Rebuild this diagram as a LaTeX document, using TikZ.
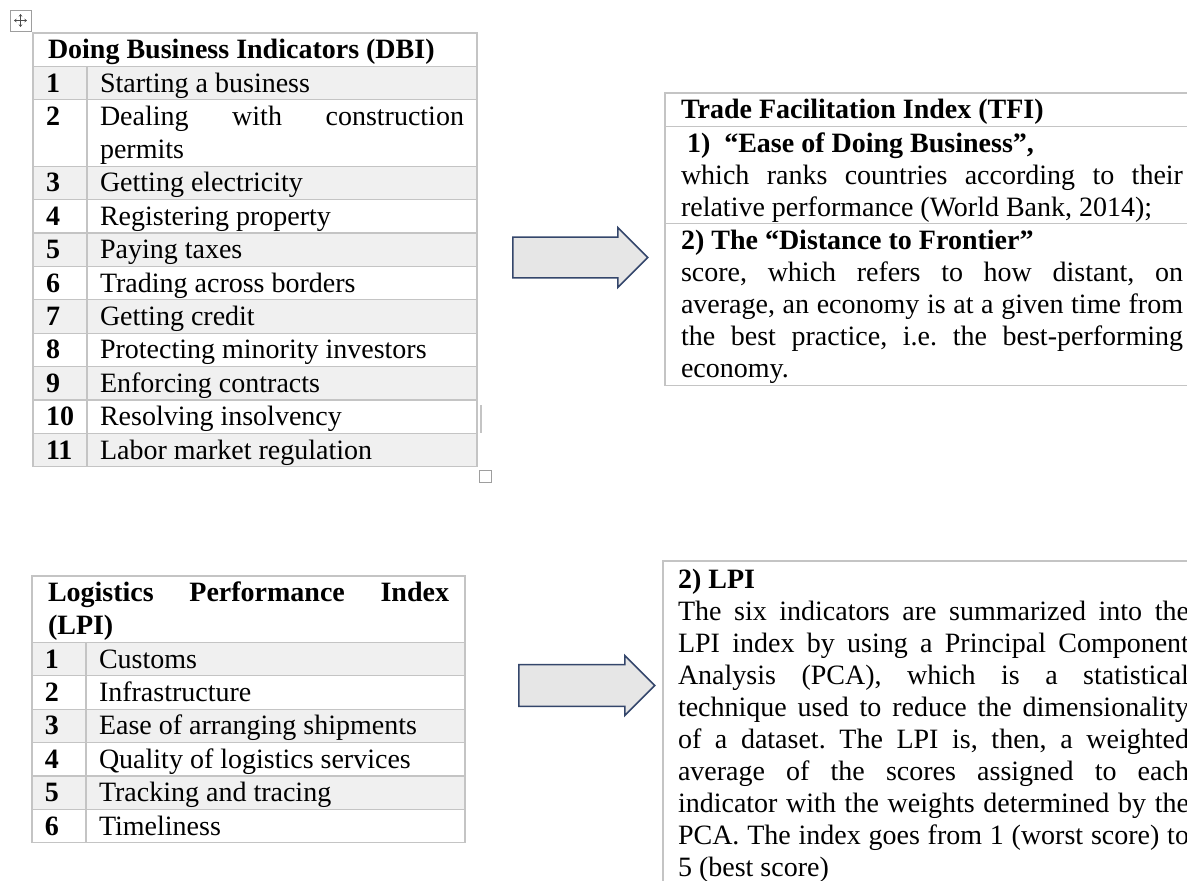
\documentclass[tikz,border=0pt]{standalone}
\usepackage{fontspec}
\setmainfont{Liberation Serif}
\usepackage{xcolor}
\usepackage{tikz}
\usetikzlibrary{positioning, arrows.meta, shapes.arrows}
\frenchspacing
\definecolor{gridGray}{HTML}{C4C4C4}
\definecolor{rowGray}{HTML}{F0F0F0}
\definecolor{arrowFill}{HTML}{E6E6E6}
\definecolor{arrowEdge}{HTML}{34466B}
\definecolor{handleGray}{HTML}{9E9E9E}
\newcommand{\fullline}[1]{\makebox[\linewidth][s]{#1}}
\tikzset{
  cell/.style={rectangle, draw=gridGray, line width=1.3pt, anchor=north west,
    outer sep=0pt, inner ysep=1.7pt, text height=24pt, text depth=6pt,
    align=justify, font=\fontsize{28}{33}\selectfont},
  headcell/.style={cell, font=\fontsize{28}{33}\selectfont\bfseries},
  numcell/.style={cell, inner xsep=13pt, text width=28pt,
    font=\fontsize{28}{33}\selectfont\bfseries},
  itemcell/.style={cell, inner xsep=13pt},
  shaded/.style={fill=rowGray},
  textbox/.style={cell, inner xsep=16pt, font=\fontsize{28}{32}\selectfont},
  blockarrow/.style={single arrow, draw=arrowEdge, fill=arrowFill,
    line width=1.5pt, inner xsep=0pt, minimum width=60pt, anchor=tail},
  handlebox/.style={draw=handleGray, line width=1pt},
  handleicon/.style={{Stealth[length=2.5pt,width=3.5pt]}-{Stealth[length=2.5pt,width=3.5pt]},
    line width=0.8pt, black!70},
}

\begin{document}
\begin{tikzpicture}[x=1pt, y=-1pt]
  \clip (0,0) rectangle (1187,881);

  % table handles
  \draw[handlebox, fill=white] (10,10) rectangle (31,31);
  \draw[handleicon] (14,20.5) -- (27,20.5);
  \draw[handleicon] (20.5,14) -- (20.5,27);

  % Doing Business Indicators
  \node[headcell, inner xsep=15pt, text width=414pt] (dbihead) at (33,33)
    {Doing Business Indicators (DBI)};
  \node[numcell, shaded] (dbinum1) at (dbihead.south west) {1};
  \node[itemcell, shaded, text width=364pt, right=0pt of dbinum1] (dbiitem1)
    {Starting a business};
  \node[numcell, text depth=39pt, below=0pt of dbinum1] (dbinum2) {2};
  \node[itemcell, text width=364pt, text depth=39pt, right=0pt of dbinum2] (dbiitem2)
    {\fullline{Dealing with construction}\\permits};
  \node[numcell, shaded, below=0pt of dbinum2] (dbinum3) {3};
  \node[itemcell, shaded, text width=364pt, right=0pt of dbinum3] (dbiitem3)
    {Getting electricity};
  \node[numcell, below=0pt of dbinum3] (dbinum4) {4};
  \node[itemcell, text width=364pt, right=0pt of dbinum4] (dbiitem4)
    {Registering property};
  \node[numcell, shaded, below=0pt of dbinum4] (dbinum5) {5};
  \node[itemcell, shaded, text width=364pt, right=0pt of dbinum5] (dbiitem5)
    {Paying taxes};
  \node[numcell, below=0pt of dbinum5] (dbinum6) {6};
  \node[itemcell, text width=364pt, right=0pt of dbinum6] (dbiitem6)
    {Trading across borders};
  \node[numcell, shaded, below=0pt of dbinum6] (dbinum7) {7};
  \node[itemcell, shaded, text width=364pt, right=0pt of dbinum7] (dbiitem7)
    {Getting credit};
  \node[numcell, below=0pt of dbinum7] (dbinum8) {8};
  \node[itemcell, text width=364pt, right=0pt of dbinum8] (dbiitem8)
    {Protecting minority investors};
  \node[numcell, shaded, below=0pt of dbinum8] (dbinum9) {9};
  \node[itemcell, shaded, text width=364pt, right=0pt of dbinum9] (dbiitem9)
    {Enforcing contracts};
  \node[numcell, below=0pt of dbinum9] (dbinum10) {10};
  \node[itemcell, text width=364pt, right=0pt of dbinum10] (dbiitem10)
    {Resolving insolvency};
  \node[numcell, shaded, below=0pt of dbinum10] (dbinum11) {11};
  \node[itemcell, shaded, text width=364pt, right=0pt of dbinum11] (dbiitem11)
    {Labor market regulation};
  \draw[handlebox, fill=white] (479,470) rectangle (491,482);
  \draw[gridGray, line width=1.5pt] (481,405) -- (481,433);

  % Trade Facilitation Index
  \node[textbox, text width=502pt, font=\fontsize{28}{32}\selectfont\bfseries]
    (tfihead) at (665,93) {Trade Facilitation Index (TFI)};
  \node[textbox, text width=502pt, text depth=70pt, below=0pt of tfihead] (tfiease)
    {\textbf{\hspace*{6pt}1)\hspace{14pt}“Ease of Doing Business”,}\\
     \fullline{which ranks countries according to their}\\
     relative performance (World Bank, 2014);};
  \node[textbox, text width=502pt, text depth=134pt, below=0pt of tfiease] (tfidist)
    {\textbf{2) The “Distance to Frontier”}\\
     \fullline{score, which refers to how distant, on}\\
     \fullline{average, an economy is at a given time from}\\
     \fullline{the best practice, i.e. the best-performing}\\
     economy.};
  \node[blockarrow, minimum height=135pt, inner ysep=14.5pt] (dbiarrow) at (512,257.5) {};

  % Logistics Performance Index
  \node[headcell, inner xsep=16pt, text width=401pt, text depth=39pt] (lpihead) at (32,576)
    {\fullline{Logistics Performance Index}\\(LPI)};
  \node[numcell, shaded] (lpinum1) at (lpihead.south west) {1};
  \node[itemcell, shaded, text width=353pt, right=0pt of lpinum1] (lpiitem1)
    {Customs};
  \node[numcell, below=0pt of lpinum1] (lpinum2) {2};
  \node[itemcell, text width=353pt, right=0pt of lpinum2] (lpiitem2)
    {Infrastructure};
  \node[numcell, shaded, below=0pt of lpinum2] (lpinum3) {3};
  \node[itemcell, shaded, text width=353pt, right=0pt of lpinum3] (lpiitem3)
    {Ease of arranging shipments};
  \node[numcell, below=0pt of lpinum3] (lpinum4) {4};
  \node[itemcell, text width=353pt, right=0pt of lpinum4] (lpiitem4)
    {Quality of logistics services};
  \node[numcell, shaded, below=0pt of lpinum4] (lpinum5) {5};
  \node[itemcell, shaded, text width=353pt, right=0pt of lpinum5] (lpiitem5)
    {Tracking and tracing};
  \node[numcell, below=0pt of lpinum5] (lpinum6) {6};
  \node[itemcell, text width=353pt, right=0pt of lpinum6] (lpiitem6)
    {Timeliness};

  \node[textbox, inner xsep=15pt, text width=511pt, text height=26pt, text depth=314pt]
    (lpitext) at (663,561)
    {\textbf{2) LPI}\\
     \fullline{The six indicators are summarized into the}\\
     \fullline{LPI index by using a Principal Component}\\
     \fullline{Analysis (PCA), which is a statistical}\\
     \fullline{technique used to reduce the dimensionality}\\
     \fullline{of a dataset. The LPI is, then, a weighted}\\
     \fullline{average of the scores assigned to each}\\
     \fullline{indicator with the weights determined by the}\\
     \fullline{PCA. The index goes from 1 (worst score) to}\\
     5 (best score)};
  \node[blockarrow, minimum height=136pt, inner ysep=15.5pt] (lpiarrow) at (518,685.5) {};
\end{tikzpicture}
\end{document}
